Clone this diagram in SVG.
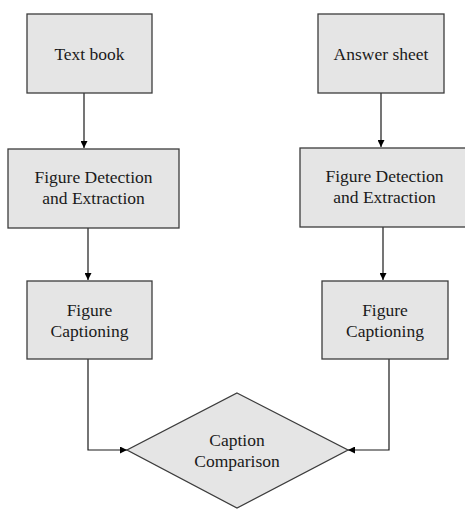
<svg xmlns="http://www.w3.org/2000/svg" width="465" height="510" viewBox="0 0 465 510">
  <style>
    .box { fill: #e5e5e5; stroke: #3c3c3c; stroke-width: 1.3; }
    .lbl { font-family: "Liberation Serif", Tinos, "DejaVu Serif", serif; font-size: 17.5px; fill: #1a1a1a; text-anchor: middle; }
    .edge { fill: none; stroke: #1a1a1a; stroke-width: 1.2; }
  </style>
  <defs>
    <marker id="arr" viewBox="0 0 10 10" refX="10" refY="5" markerWidth="7" markerHeight="7" markerUnits="userSpaceOnUse" orient="auto">
      <path d="M0,0 L10,5 L0,10 z" fill="#000"/>
    </marker>
  </defs>
  <rect width="465" height="510" fill="#fff"/>

  <g id="connectors">
    <path class="edge" d="M84,93 V148" marker-end="url(#arr)"/>
    <path class="edge" d="M88,228 V280" marker-end="url(#arr)"/>
    <path class="edge" d="M88,359 V450 H127" marker-end="url(#arr)"/>
    <path class="edge" d="M381,93 V147" marker-end="url(#arr)"/>
    <path class="edge" d="M383,227 V280" marker-end="url(#arr)"/>
    <path class="edge" d="M389,359 V450 H348" marker-end="url(#arr)"/>
  </g>

  <g id="textbook">
    <rect class="box" x="27" y="14" width="125" height="79"/>
    <text class="lbl" x="89.5" y="60">Text book</text>
  </g>
  <g id="detect-left">
    <rect class="box" x="8" y="149" width="171" height="79"/>
    <text class="lbl" x="93.5" y="183">Figure Detection</text>
    <text class="lbl" x="93.5" y="204">and Extraction</text>
  </g>
  <g id="caption-left">
    <rect class="box" x="27" y="281" width="125" height="78"/>
    <text class="lbl" x="89.5" y="316">Figure</text>
    <text class="lbl" x="89.5" y="337">Captioning</text>
  </g>

  <g id="answersheet">
    <rect class="box" x="318" y="14" width="126" height="79"/>
    <text class="lbl" x="381" y="60">Answer sheet</text>
  </g>
  <g id="detect-right">
    <rect class="box" x="300" y="148" width="169" height="79"/>
    <text class="lbl" x="384.5" y="182">Figure Detection</text>
    <text class="lbl" x="384.5" y="203">and Extraction</text>
  </g>
  <g id="caption-right">
    <rect class="box" x="322" y="281" width="126" height="78"/>
    <text class="lbl" x="385" y="316">Figure</text>
    <text class="lbl" x="385" y="337">Captioning</text>
  </g>

  <g id="comparison">
    <polygon class="box" points="237,393 348,450 237,508 127,450"/>
    <text class="lbl" x="237" y="446">Caption</text>
    <text class="lbl" x="237" y="467">Comparison</text>
  </g>
</svg>
